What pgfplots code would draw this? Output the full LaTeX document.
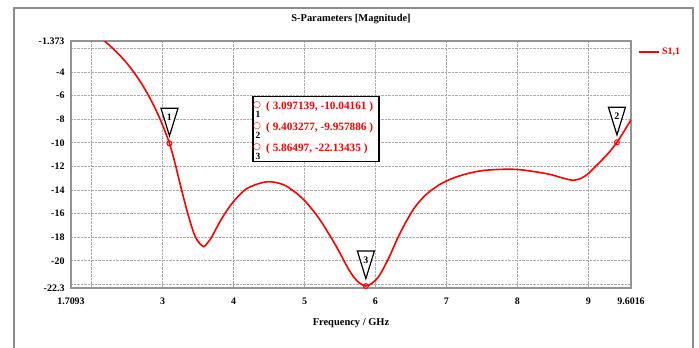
\documentclass[border=0pt]{standalone}
\usepackage{fontspec}
\setmainfont{Liberation Serif}
\newfontfamily\dejavu{DejaVu Sans}
\usepackage{pgfplots}
\pgfplotsset{compat=1.18}
\pgfdeclareplotmark{invtri}{%
  \pgfpathmoveto{\pgfpoint{-8.5bp}{35bp}}%
  \pgfpathlineto{\pgfpoint{8.5bp}{35bp}}%
  \pgfpathlineto{\pgfpoint{0bp}{7.5bp}}%
  \pgfpathclose
  \pgfusepathqfillstroke}
\begin{document}
\begin{tikzpicture}[x=1bp,y=1bp]
\useasboundingbox (0,0) rectangle (699,-347);
\draw[color=gray!90, line width=2.5bp] (14,-420) -- (14,-8) -- (693,-8) -- (693,-420);
\begin{axis}[at={(71bp,-288bp)}, anchor=south west,
  width=560bp, height=247bp, scale only axis,
  xmin=1.7093, xmax=9.6016, ymin=-22.3, ymax=-1.373,
  xtick={1.7093,2,3,4,5,6,7,8,9,9.6016},
  xticklabels={1.7093,,3,4,5,6,7,8,9,9.6016},
  ytick={-22.3,-22,-20,-18,-16,-14,-12,-10,-8,-6,-4,-2,-1.373},
  yticklabels={-22.3,,-20,-18,-16,-14,-12,-10,-8,-6,-4,,-1.373},
  grid=major, major grid style={gray!65, densely dotted, line width=0.8bp},
  major tick length=0pt,
  axis line style={gray!85, line width=1.5bp},
  tick label style={font=\bfseries\fontsize{10}{12}\selectfont},
  xticklabel style={yshift=-6bp},
  yticklabel style={xshift=-3bp},
  /pgf/number format/assume math mode=true,
  title={S-Parameters [Magnitude]},
  title style={at={(axis description cs:0.5,1)}, anchor=center, yshift=16bp, font=\bfseries\fontsize{10.5}{12}\selectfont},
  xlabel={Frequency / GHz},
  xlabel style={at={(axis description cs:0.5,0)}, anchor=center, yshift=-35bp, font=\bfseries\fontsize{10.5}{12}\selectfont},
  legend style={at={(axis description cs:1,1)}, anchor=north west, draw=none, fill=none,
    font=\bfseries\fontsize{10}{12}\selectfont, text=red, xshift=4bp, yshift=-3bp},
  legend image code/.code={\draw[line width=1.8bp] (0bp,0bp) -- (20bp,0bp);},
]
\addplot[red, line width=1.6bp, smooth, tension=0.5] coordinates {
(2.06,-0.85) (2.18,-1.37) (2.3,-2.0) (2.4,-2.6) (2.5,-3.28) (2.6,-4.06) (2.7,-4.95)
(2.8,-5.97) (2.9,-7.14) (3.0,-8.5) (3.097,-10.04) (3.17,-11.6) (3.26,-13.8) (3.36,-16.1)
(3.45,-17.8) (3.52,-18.5) (3.58,-18.8) (3.63,-18.5) (3.69,-18.0) (3.83,-16.45)
(3.99,-15.04) (4.18,-13.9) (4.41,-13.36) (4.55,-13.31) (4.74,-13.65) (4.98,-14.76)
(5.21,-16.45) (5.45,-18.8) (5.63,-20.8) (5.75,-21.75) (5.865,-22.13) (5.96,-21.85)
(6.06,-21.2) (6.20,-19.6) (6.31,-18.1) (6.43,-16.7) (6.55,-15.5) (6.71,-14.4)
(6.90,-13.55) (7.09,-13.0) (7.3,-12.6) (7.51,-12.35) (7.75,-12.25) (7.98,-12.25)
(8.2,-12.4) (8.45,-12.66) (8.65,-13.0) (8.78,-13.17) (8.9,-13.0) (9.0,-12.6)
(9.1,-12.0) (9.2,-11.4) (9.3,-10.75) (9.403,-9.96) (9.5,-9.05) (9.6016,-8.04)
};
\addlegendentry{S1,1}
\addplot[only marks, mark=invtri, forget plot,
  mark options={draw=black, fill=white, line width=1.2bp},
  nodes near coords, point meta=explicit symbolic,
  every node near coord/.style={anchor=center, yshift=26bp, text=black,
    font=\bfseries\fontsize{10}{10}\selectfont}]
  table[meta=n] {
x y n
3.097139 -10.04161 1
9.403277 -9.957886 2
5.86497 -22.13435 3
};
\addplot[only marks, mark=o, red, mark size=2.5bp, forget plot,
  mark options={fill=white, line width=1bp}] coordinates {
(3.097139,-10.04161) (9.403277,-9.957886) (5.86497,-22.13435)};
\end{axis}
\node[draw=black, line width=1.4bp, fill=white, minimum width=126bp, minimum height=65bp,
  anchor=north west, inner sep=0pt] at (252.3,-96) {};
\begin{scope}[every node/.style={inner sep=0pt}]
\node[anchor=west, text=red, font=\bfseries\fontsize{11.3}{12}\selectfont] at (266,-107) {( 3.097139, -10.04161 )};
\node[anchor=west, text=red, font=\bfseries\fontsize{11.3}{12}\selectfont] at (266,-128) {( 9.403277, -9.957886 )};
\node[anchor=west, text=red, font=\bfseries\fontsize{11.3}{12}\selectfont] at (266,-149) {( 5.86497, -22.13435 )};
\node[text=red, font=\dejavu\bfseries\fontsize{9}{9}\selectfont] at (257,-105) {○};
\node[text=red, font=\dejavu\bfseries\fontsize{9}{9}\selectfont] at (257,-126) {○};
\node[text=red, font=\dejavu\bfseries\fontsize{9}{9}\selectfont] at (257,-147) {○};
\node[font=\bfseries\fontsize{9.5}{10}\selectfont] at (258,-114.5) {1};
\node[font=\bfseries\fontsize{9.5}{10}\selectfont] at (258,-135.5) {2};
\node[font=\bfseries\fontsize{9.5}{10}\selectfont] at (258,-156.5) {3};
\end{scope}
\end{tikzpicture}
\end{document}
